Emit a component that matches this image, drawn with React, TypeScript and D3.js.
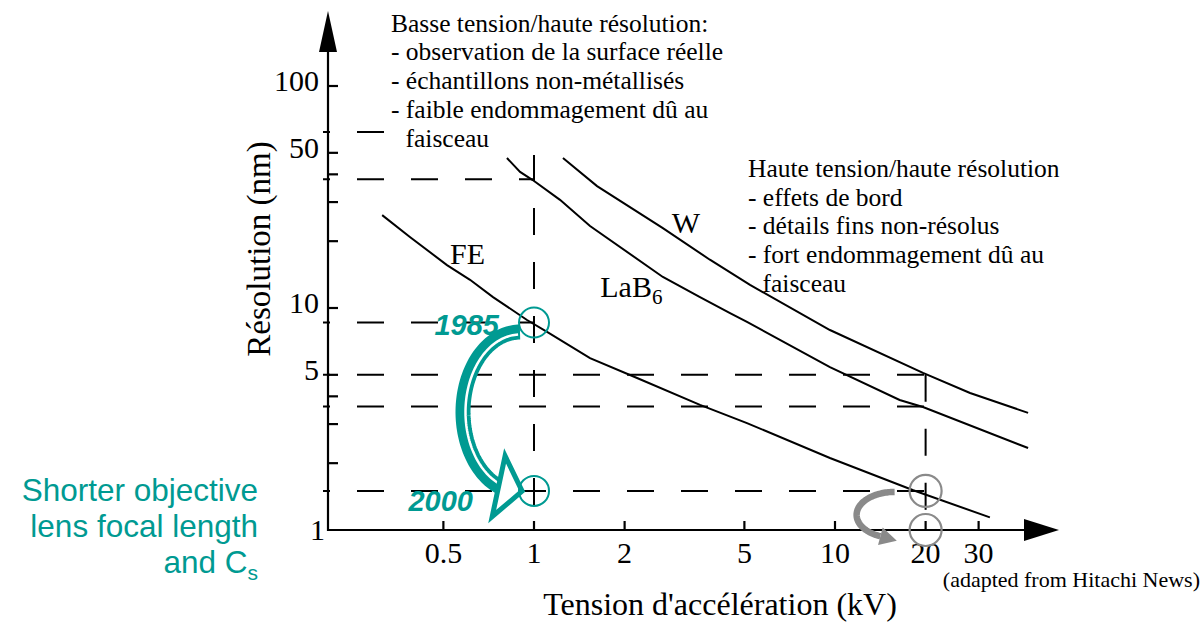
import React from "react";
import * as d3 from "d3";

// ---------- data ----------
const feKV = [0.313, 0.387, 0.514, 0.613, 0.731, 0.948, 1.105, 1.535, 2.2, 3.56, 5.1, 9.62, 18.2, 32.7];
const feNM = [26.2, 20.9, 15.6, 13.4, 11.2, 8.83, 7.8, 5.95, 4.84, 3.66, 3.03, 2.11, 1.51, 1.14];

const labKV = [0.813, 0.899, 0.99, 1.22, 1.535, 2.68, 3.56, 4.48, 5.1, 9.62, 16.4, 19.6, 43.8];
const labNM = [47.4, 41.0, 37.7, 30.7, 23.4, 13.8, 11.2, 9.49, 8.65, 5.42, 3.85, 3.58, 2.34];

const wKV = [1.248, 1.62, 2.68, 3.84, 5.22, 9.62, 19.6, 28.1, 43.8];
const wNM = [47.4, 35.4, 22.9, 16.5, 12.7, 7.96, 5.1, 4.14, 3.37];

const xTickValues = [0.5, 1, 2, 5, 10, 20, 30];
const xTickLabels = ["0.5", "1", "2", "5", "10", "20", "30"];
const yTickValues = [2, 3, 4, 5, 10, 20, 30, 40, 50, 100];
const yLabelValues = [1, 5, 10, 50, 100];
const yLabelTexts = ["1", "5", "10", "50", "100"];

// dashed reference lines
const refLevelsNM = [62, 38, 8.6, 5, 3.6, 1.5];
const refLevelEndKV = [1, 1, 1, 20, 20, 20];
const refVerticalKV = [1, 20];
const refVerticalTopNM = [62, 5];

// highlighted points
const tealCircleKV = [1, 1];
const tealCircleNM = [8.6, 1.5];
const grayCircleKV = [20, 20];
const grayCircleNM = [1.5, 1];

// curve labels
const curveLabelKV = [0.526, 1.66, 2.87];
const curveLabelNM = [15.8, 11.2, 21.8];

const leftNote = [
  "Basse tension/haute résolution:",
  "- observation de la surface réelle",
  "- échantillons non-métallisés",
  "- faible endommagement dû au",
  "faisceau",
];
const rightNote = [
  "Haute tension/haute résolution",
  "- effets de bord",
  "- détails fins non-résolus",
  "- fort endommagement dû au",
  "faisceau",
];
const sideNote = ["Shorter objective", "lens focal length", "and C"];

const TEAL = "#009a92";
const GRAY = "#8a8a8a";
const SERIF = "'Liberation Serif', 'Times New Roman', serif";
const SANS = "'Liberation Sans', Arial, sans-serif";

function arcPoints(cx: number, cy: number, rx: number, ry: number, t0: number, t1: number, n = 80) {
  const pts: [number, number][] = [];
  for (let i = 0; i <= n; i++) {
    const t = ((t0 + (t1 - t0) * (i / n)) * Math.PI) / 180;
    pts.push([cx + rx * Math.cos(t), cy + ry * Math.sin(t)]);
  }
  return pts;
}

function headPoints(px: number, py: number, angDeg: number, len: number, half: number) {
  const a = (angDeg * Math.PI) / 180;
  const ux = Math.cos(a), uy = Math.sin(a);
  const nx = -uy, ny = ux;
  return [
    [px + ux * len, py + uy * len],
    [px + nx * half, py + ny * half],
    [px - nx * half, py - ny * half],
  ]
    .map((p) => p.join(","))
    .join(" ");
}

export default function App() {
  const W = 1204, H = 625;
  const left = 328, bottom = 530;
  const xAxisEnd = 1024, xTip = 1059;
  const yAxisEnd = 52, yTip = 11;

  const x = d3.scaleLog().domain([1, 10]).range([534, 835]);
  const y = d3.scaleLog().domain([1, 10]).range([530, 308]);
  const line = d3
    .line<[number, number]>()
    .x((d) => x(d[0]))
    .y((d) => y(d[1]));

  const series = [
    { kv: feKV, nm: feNM },
    { kv: labKV, nm: labNM },
    { kv: wKV, nm: wNM },
  ];

  const path = d3.line<[number, number]>();

  // teal arrow geometry, anchored on the highlighted points
  const a1x = x(tealCircleKV[0]);
  const a1y = y(tealCircleNM[0]);
  const tRx = 57, tRy = 80;
  const tCx = a1x - 14;
  const tCy = a1y + 9.5 + tRy;
  const tEnd = 112;
  const tP: [number, number] = [tCx + tRx * Math.cos((tEnd * Math.PI) / 180), tCy + tRy * Math.sin((tEnd * Math.PI) / 180)];

  // gray arrow geometry
  const g1x = x(grayCircleKV[0]);
  const g1y = y(grayCircleNM[0]);
  const gRx = 38, gRy = 23;
  const gCx = g1x - 31;
  const gCy = g1y + 1 + gRy;
  const gEnd = 112;
  const gP: [number, number] = [gCx + gRx * Math.cos((gEnd * Math.PI) / 180), gCy + gRy * Math.sin((gEnd * Math.PI) / 180)];

  return (
    <svg
      width={W}
      height={H}
      style={{ position: "absolute", left: 0, top: 0, background: "#fff" }}
    >
      <rect x={0} y={0} width={W} height={H} fill="#fff" />

      {/* dashed reference lines */}
      <g stroke="#000" strokeWidth={2} fill="none" strokeDasharray="27 27">
        {refLevelsNM.map((v, i) => (
          <line
            key={"h" + i}
            x1={left - 5}
            x2={x(refLevelEndKV[i])}
            y1={y(v)}
            y2={y(v)}
            strokeDashoffset={20}
          />
        ))}
        {refVerticalKV.map((v, i) => (
          <line
            key={"v" + i}
            x1={x(v)}
            x2={x(v)}
            y1={y(refVerticalTopNM[i])}
            y2={bottom}
            strokeDashoffset={i === 0 ? 32 : 0}
          />
        ))}
      </g>

      {/* curves */}
      <g stroke="#000" strokeWidth={2} fill="none">
        {series.map((s, i) => (
          <path key={i} d={line(s.kv.map((k, j) => [k, s.nm[j]] as [number, number])) || ""} />
        ))}
      </g>

      {/* white box behind the upper note */}
      <rect x={385} y={0} width={355} height={155} fill="#fff" />

      {/* axes */}
      <g stroke="#000" strokeWidth={2.2}>
        <line x1={left} x2={xAxisEnd} y1={bottom} y2={bottom} />
        <line x1={left} x2={left} y1={bottom + 1} y2={yAxisEnd} />
        {xTickValues.map((v, i) => (
          <line key={i} x1={x(v)} x2={x(v)} y1={bottom} y2={bottom - 9} />
        ))}
        {yTickValues.map((v, i) => (
          <line key={i} x1={left} x2={left + 10} y1={y(v)} y2={y(v)} />
        ))}
      </g>
      <polygon points={`${xTip},${bottom} ${xAxisEnd},${bottom - 11} ${xAxisEnd},${bottom + 11}`} fill="#000" />
      <polygon points={`${left},${yTip} ${left - 9},${yAxisEnd} ${left + 9},${yAxisEnd}`} fill="#000" />

      {/* tick labels */}
      <g fontFamily={SERIF} fontSize={30} fill="#000">
        {xTickValues.map((v, i) => (
          <text key={i} x={x(v)} y={563} textAnchor="middle">
            {xTickLabels[i]}
          </text>
        ))}
        {yLabelValues.map((v, i) => (
          <text key={i} x={i === 0 ? 325 : 319} y={y(v) + (i === 0 ? 10 : 5)} textAnchor="end">
            {yLabelTexts[i]}
          </text>
        ))}
      </g>

      {/* axis titles */}
      <text x={720} y={615} textAnchor="middle" fontFamily={SERIF} fontSize={32}>
        Tension d'accélération (kV)
      </text>
      <text
        transform="translate(270,249) rotate(-90)"
        textAnchor="middle"
        fontFamily={SERIF}
        fontSize={33}
      >
        Résolution (nm)
      </text>

      {/* curve labels */}
      <g fontFamily={SERIF} fontSize={30}>
        <text x={x(curveLabelKV[0])} y={y(curveLabelNM[0])}>FE</text>
        <text x={x(curveLabelKV[1])} y={y(curveLabelNM[1])}>
          LaB<tspan fontSize={21} dy={7}>6</tspan>
        </text>
        <text x={x(curveLabelKV[2])} y={y(curveLabelNM[2])}>W</text>
      </g>

      {/* notes */}
      <g fontFamily={SERIF} fontSize={25.5}>
        {leftNote.map((t, i) => (
          <text key={i} x={391 + (i === leftNote.length - 1 ? 14.5 : 0)} y={31.5 + i * 28.8}>
            {t}
          </text>
        ))}
        {rightNote.map((t, i) => (
          <text key={i} x={748 + (i === rightNote.length - 1 ? 14.5 : 0)} y={177 + i * 28.7}>
            {t}
          </text>
        ))}
      </g>
      <text x={1200} y={587} textAnchor="end" fontFamily={SERIF} fontSize={22}>
        (adapted from Hitachi News)
      </text>

      {/* teal arrow */}
      <path d={path(arcPoints(tCx, tCy, tRx, tRy, 270, tEnd)) || ""} stroke={TEAL} strokeWidth={15} fill="none" />
      <path
        d={path(arcPoints(tCx, tCy, tRx - 2.5, tRy - 2.5, 268, tEnd + 2)) || ""}
        stroke="#fff"
        strokeWidth={2.5}
        fill="none"
      />
      <polygon
        points={headPoints(tP[0], tP[1], 12, 24, 31)}
        fill="#fff"
        stroke={TEAL}
        strokeWidth={5}
        strokeLinejoin="miter"
      />
      {tealCircleKV.map((k, i) => (
        <circle key={i} cx={x(k)} cy={y(tealCircleNM[i])} r={15} fill="none" stroke={TEAL} strokeWidth={2} />
      ))}
      <g fontFamily={SANS} fontSize={29} fontWeight="bold" fontStyle="italic" fill={TEAL}>
        <text x={a1x - 35} y={a1y + 12} textAnchor="end">1985</text>
        <text x={a1x - 61} y={y(tealCircleNM[1]) + 20} textAnchor="end">2000</text>
      </g>

      {/* gray arrow */}
      <path d={path(arcPoints(gCx, gCy, gRx, gRy, 270, gEnd)) || ""} stroke={GRAY} strokeWidth={6.5} fill="none" />
      <polygon points={headPoints(gP[0], gP[1], 15, 17, 9)} fill={GRAY} />
      {grayCircleKV.map((k, i) => (
        <circle key={i} cx={x(k)} cy={y(grayCircleNM[i])} r={16} fill="none" stroke={GRAY} strokeWidth={2.2} />
      ))}

      {/* side note */}
      <g fontFamily={SANS} fontSize={31.5} fill={TEAL} textAnchor="end">
        <text x={258} y={501}>{sideNote[0]}</text>
        <text x={258} y={537}>{sideNote[1]}</text>
        <text x={258} y={573}>
          {sideNote[2]}
          <tspan fontSize={21} dy={7}>s</tspan>
        </text>
      </g>
    </svg>
  );
}
